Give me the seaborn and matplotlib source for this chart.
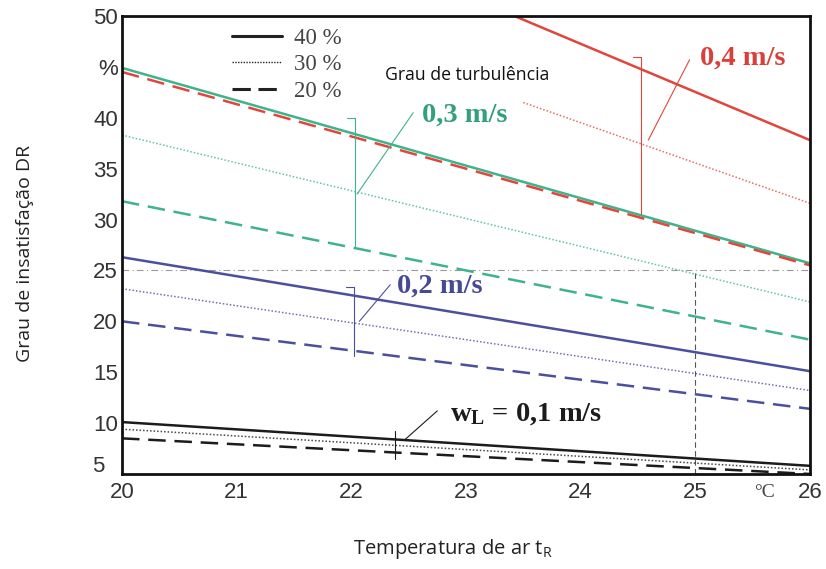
import numpy as np
import pandas as pd
import matplotlib
matplotlib.use("Agg")
import matplotlib.pyplot as plt
import matplotlib.transforms as mtransforms
from matplotlib.lines import Line2D
import seaborn as sns

# values (DR in %, air temperature in degC)
temp = [20, 26]
temp_04_30 = [23.5, 26]  # red dotted line only shows on the right part

dr_04_40 = [66.2, 37.8]
dr_04_30 = [41.5, 31.6]
dr_04_20 = [44.5, 25.5]
dr_03_40 = [44.9, 25.7]
dr_03_30 = [38.3, 21.9]
dr_03_20 = [31.8, 18.2]
dr_02_40 = [26.3, 15.1]
dr_02_30 = [23.2, 13.2]
dr_02_20 = [20.0, 11.4]
dr_01_40 = [10.1, 5.8]
dr_01_30 = [9.4, 5.4]
dr_01_20 = [8.5, 5.0]

speeds = ["0,4", "0,3", "0,2", "0,1"]
turb_levels = ["40 %", "30 %", "20 %"]

rows = []
def add(speed, turb, xs, ys):
    for x, y in zip(xs, ys):
        rows.append({"temp": x, "dr": y, "speed": speed, "turb": turb})

add("0,4", "40 %", temp, dr_04_40)
add("0,4", "30 %", temp_04_30, dr_04_30)
add("0,4", "20 %", temp, dr_04_20)
add("0,3", "40 %", temp, dr_03_40)
add("0,3", "30 %", temp, dr_03_30)
add("0,3", "20 %", temp, dr_03_20)
add("0,2", "40 %", temp, dr_02_40)
add("0,2", "30 %", temp, dr_02_30)
add("0,2", "20 %", temp, dr_02_20)
add("0,1", "40 %", temp, dr_01_40)
add("0,1", "30 %", temp, dr_01_30)
add("0,1", "20 %", temp, dr_01_20)
df = pd.DataFrame(rows)

colors = {"0,4": "#e0463c", "0,3": "#3fb38a", "0,2": "#4b4f9e", "0,1": "#1c1c1c"}
label_colors = {"0,4": "#d8413a", "0,3": "#33a07c", "0,2": "#454a96", "0,1": "#1c1c1c"}
styles = {
    "40 %": dict(linestyle="-", linewidth=1.8, alpha=1.0),
    "30 %": dict(linestyle=(0, (1, 1.3)), linewidth=1.1, alpha=0.8),
    "20 %": dict(linestyle=(0, (7, 3.5)), linewidth=1.8, alpha=1.0),
}

sns.set_style("white")
plt.rcParams["mathtext.fontset"] = "custom"
plt.rcParams["mathtext.bf"] = "Liberation Serif:bold"
plt.rcParams["mathtext.rm"] = "Liberation Serif"

fig = plt.figure(figsize=(8.26, 5.69), dpi=100)
ax = fig.add_axes([0.1477, 0.167, 0.8329, 0.8049])

for turb in turb_levels:
    sub = df[df["turb"] == turb]
    sns.lineplot(data=sub, x="temp", y="dr", hue="speed", palette=colors,
                 units="speed", estimator=None, sort=False, legend=False,
                 ax=ax, **styles[turb])

# 25 % comfort limit and 25 degC guide lines
ax.axhline(25, color="#9a9a9a", linewidth=0.8, linestyle=(0, (6, 3, 1, 3)), zorder=1)
ax.plot([25, 25], [5, 25], color="#555555", linewidth=0.8, linestyle=(0, (5, 3)), zorder=1)

# brackets and leader lines per air speed
bracket_x = {"0,4": 24.53, "0,3": 22.03, "0,2": 22.02, "0,1": 22.38}
bracket_y = {"0,4": (46.0, 30.5), "0,3": (40.0, 27.4), "0,2": (23.4, 16.6), "0,1": (9.2, 6.5)}
leader = {"0,4": ((24.95, 45.7), (24.59, 37.8)),
          "0,3": ((22.54, 40.5), (22.05, 32.5)),
          "0,2": ((22.34, 23.6), (22.07, 20.0)),
          "0,1": ((22.75, 11.2), (22.47, 8.4))}
label_pos = {"0,4": (25.04, 45.9), "0,3": (22.62, 40.3), "0,2": (22.40, 23.5), "0,1": (22.86, 10.9)}

for s in speeds:
    c = colors[s]
    bx = bracket_x[s]
    ytop, ybot = bracket_y[s]
    ax.plot([bx, bx], [ytop, ybot], color=c, linewidth=0.8)
    if s != "0,1":
        ax.plot([bx - 0.07, bx], [ytop, ytop], color=c, linewidth=0.8)
    (x0, y0), (x1, y1) = leader[s]
    ax.plot([x0, x1], [y0, y1], color=c, linewidth=0.8)
    lx, ly = label_pos[s]
    txt = s + " m/s" if s != "0,1" else r"$\mathbf{w_{L}}$ = 0,1 m/s"
    ax.text(lx, ly, txt, color=label_colors[s], fontsize=20.5, fontweight="bold",
            family="Liberation Serif", ha="left", va="center")

ax.text(22.29, 44.2, "Grau de turbulência", fontsize=12.7, family="Open Sans",
        color="#111111", ha="left", va="center")

# legend for turbulence
handles = [Line2D([], [], color="#222222", linestyle="-", linewidth=2.2),
           Line2D([], [], color="#222222", linestyle=(0, (1, 1)), linewidth=1.0),
           Line2D([], [], color="#222222", linestyle=(0, (6, 2.5)), linewidth=2.2)]
ax.legend(handles, turb_levels, loc="upper left", bbox_to_anchor=(0.147, 0.993),
          frameon=False, handlelength=2.15, handletextpad=0.55, labelspacing=0.22,
          borderaxespad=0, prop={"family": "Liberation Serif", "size": 16.5})
for t in ax.get_legend().get_texts():
    t.set_color("#444444")

ax.set_xlim(20, 26)
ax.set_ylim(5, 50)
ax.set_xticks(range(20, 27))
ax.set_yticks(range(5, 51, 5))
ax.set_yticklabels([("%" if v == 45 else "" if v == 5 else str(v)) for v in range(5, 51, 5)])
ax.tick_params(direction="in", length=5, width=0.8, color="#777777", pad=3,
               labelsize=16, labelcolor="#333333")
ax.tick_params(axis="x", pad=6)
for lab in ax.get_xticklabels() + ax.get_yticklabels():
    lab.set_family("Liberation Sans")

# the "5" sits a little higher, next to the "20"
ax.text(-0.025, 0.016, "5", transform=ax.transAxes, fontsize=16, family="Liberation Sans",
        color="#333333", ha="right", va="center")

trans = mtransforms.blended_transform_factory(ax.transData, ax.transAxes)
ax.text(25.6, -0.04, "°C", transform=trans, fontsize=14, family="Liberation Serif",
        color="#444444", ha="center", va="center")

for sp in ax.spines.values():
    sp.set_visible(True)
    sp.set_color("#111111")
    sp.set_linewidth(2)

ax.set_xlabel(r"Temperatura de ar t$_\mathregular{R}$", family="Open Sans",
              fontsize=14.5, color="#222222")
ax.xaxis.set_label_coords(0.481, -0.137)
ax.set_ylabel("Grau de insatisfação DR", family="Open Sans", fontsize=14,
              color="#222222")
ax.yaxis.set_label_coords(-0.128, 0.482)

fig.savefig("out.png", dpi=100)
